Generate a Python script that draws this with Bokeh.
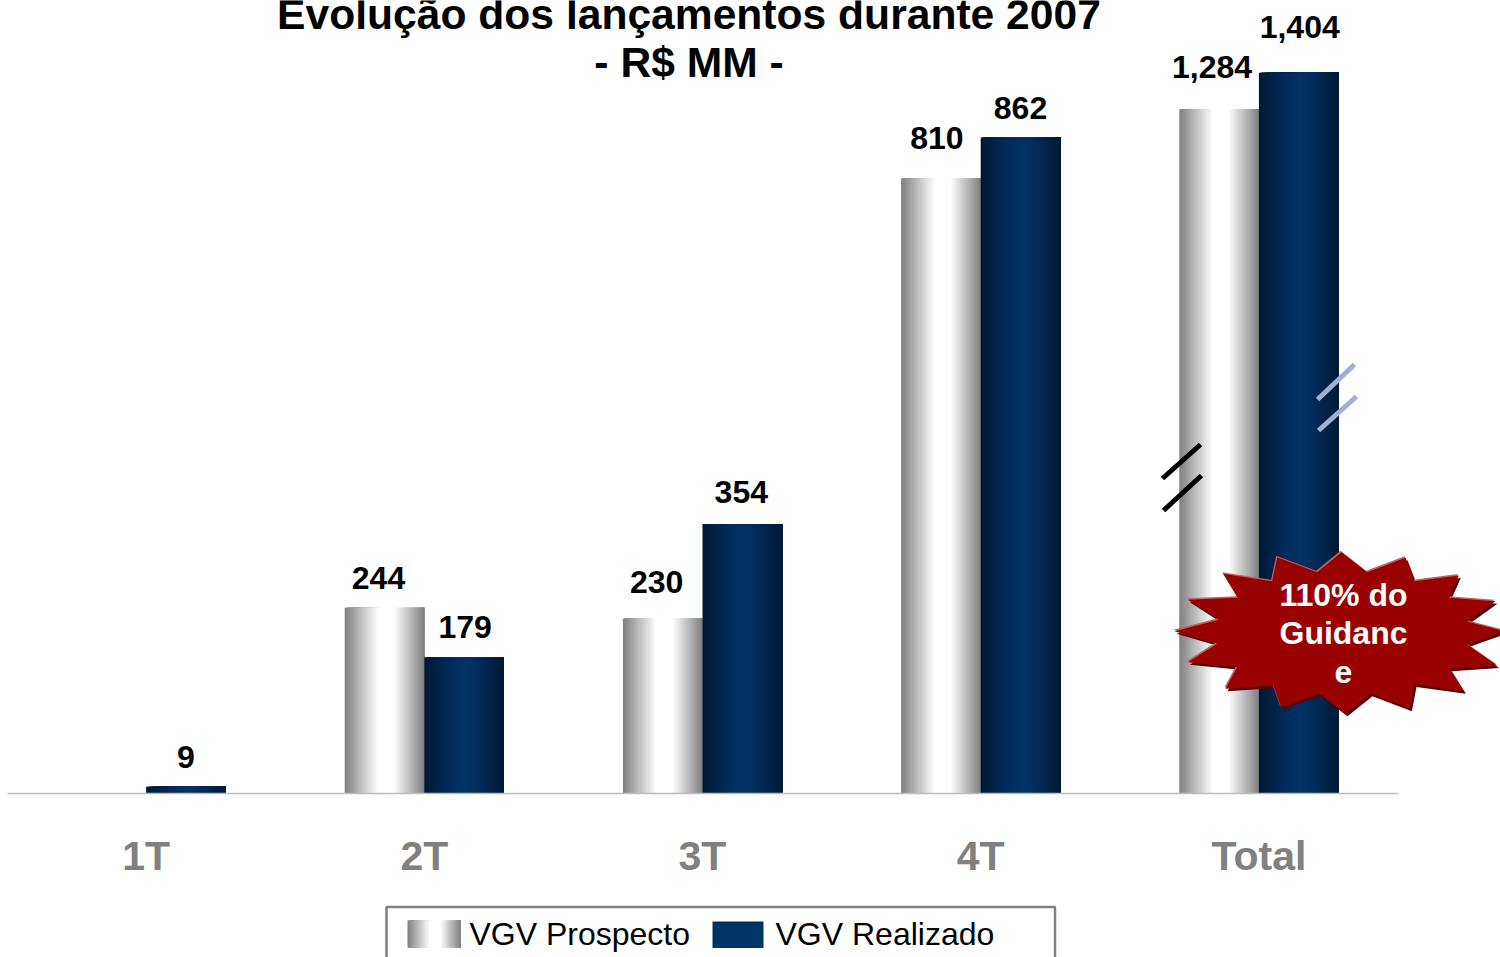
from bokeh.plotting import figure
from bokeh.models import ColumnDataSource, Range1d, FixedTicker
from bokeh.core.properties import value
from bokeh.embed import file_html
from bokeh.resources import INLINE

# ---- chart values -------------------------------------------------------
categories = ["1T", "2T", "3T", "4T", "Total"]
prospecto = [None, 244, 230, 810, 1284]
realizado = [9, 179, 354, 862, 1404]
# The Total bars sit on a broken axis: these are the heights actually drawn.
prospecto_drawn = [None, 244, 230, 808, 899]
realizado_drawn = [9, 179, 354, 862, 947]
series_names = ["VGV Prospecto", "VGV Realizado"]
title_lines = ["Evolução dos lançamentos durante 2007", "- R$ MM -"]
burst_lines = ["110% do", "Guidanc", "e"]

# ---- layout -------------------------------------------------------------
W, H = 1500, 957
X0, XSTEP = 145.6, 278.2      # pixel of category 0 and pixels per category
Y0, YSCALE = 793.0, 0.761     # pixel of value 0 and pixels per unit
BAR_W = 79.6 / XSTEP
FONT = value("Liberation Sans")

def dx(px): return (px - X0) / XSTEP
def dy(py): return (Y0 - py) / YSCALE

p = figure(width=W, height=H, output_backend="svg", toolbar_location=None,
           x_range=Range1d(dx(0), dx(W)), y_range=Range1d(dy(H), dy(0)),
           min_border=0, outline_line_color=None, background_fill_color="white",
           border_fill_color="white")
p.styles = {"position": "absolute", "left": "0px", "top": "0px"}
p.grid.visible = False
p.yaxis.visible = False

ax = p.xaxis[0]
ax.fixed_location = 0
ax.bounds = (-0.5, 4.5)
ax.ticker = FixedTicker(ticks=list(range(len(categories))))
ax.major_label_overrides = {i: c for i, c in enumerate(categories)}
ax.major_tick_line_color = None
ax.minor_tick_line_color = None
ax.axis_line_color = "#BDBDBD"
ax.axis_line_width = 1.5
ax.major_label_standoff = 33
ax.major_label_text_font = "Liberation Sans"
ax.major_label_text_font_style = "bold"
ax.major_label_text_font_size = "41px"
ax.major_label_text_color = "#808080"

# ---- gradients ----------------------------------------------------------
def lerp(stops, t):
    for (t0, c0), (t1, c1) in zip(stops, stops[1:]):
        if t <= t1:
            f = (t - t0) / (t1 - t0) if t1 > t0 else 0
            return "#%02x%02x%02x" % tuple(round(a + (b - a) * f) for a, b in zip(c0, c1))
    return "#%02x%02x%02x" % stops[-1][1]

GRAY = [(0, (128, 128, 128)), (0.42, (255, 255, 255)), (0.62, (255, 255, 255)), (1, (128, 128, 128))]
BLUE = [(0, (0, 26, 51)), (0.3, (0, 42, 88)), (0.52, (0, 51, 102)), (0.72, (0, 42, 88)), (1, (0, 26, 51))]
N = 80

def gradient_bar(left, right, bottom, top, stops):
    """Strips painted left to right, each running on to the right edge, so no seams show."""
    step = (right - left) / N
    return dict(left=[left + i * step for i in range(N)], right=[right] * N,
                bottom=[bottom] * N, top=[top] * N,
                color=[lerp(stops, (i + 0.5) / N) for i in range(N)])

for i in range(len(categories)):
    for heights, lo, stops in ((prospecto_drawn, -BAR_W, GRAY), (realizado_drawn, 0, BLUE)):
        if heights[i] is None:
            continue
        d = gradient_bar(i + lo, i + lo + BAR_W, 0, heights[i], stops)
        p.quad(source=ColumnDataSource(d), left="left", right="right", bottom="bottom", top="top",
               fill_color="color", line_color=None)

# ---- value labels -------------------------------------------------------
pro_dx = [0, -6, -6, -4, -7]
pro_dy = [0, 30, 36, 41, 42]
rea_dx = [0, 1, -1, 0, 1]
rea_dy = [30, 30, 32, 30, 46]
def fmt(v): return f"{v:,}"
lx, ly, lt, lox, loy = [], [], [], [], []
for i in range(len(categories)):
    if prospecto[i] is not None:
        lx.append(i - BAR_W / 2); ly.append(prospecto_drawn[i]); lt.append(fmt(prospecto[i]))
        lox.append(pro_dx[i]); loy.append(-pro_dy[i])
    lx.append(i + BAR_W / 2); ly.append(realizado_drawn[i]); lt.append(fmt(realizado[i]))
    lox.append(rea_dx[i]); loy.append(-rea_dy[i])
p.text(source=ColumnDataSource(dict(x=lx, y=ly, t=lt, ox=lox, oy=loy)), x="x", y="y", text="t",
       x_offset="ox", y_offset="oy", text_font=FONT, text_font_style="bold",
       text_font_size="32px", text_color="black", text_align="center", text_baseline="middle")

# ---- title --------------------------------------------------------------
for line, py in zip(title_lines, (13.5, 61.5)):
    p.text(x=[dx(688.5)], y=[dy(py)], text=[line], text_font=FONT, text_font_style="bold",
           text_font_size="42.6px", text_color="black", text_align="center", text_baseline="middle")

# ---- axis-break marks ---------------------------------------------------
for pts, col in (([(1162, 478, 1200, 444), (1163, 510, 1201, 475)], "#000000"),
                 ([(1317, 399, 1354, 364), (1318, 430, 1356, 396)], "#9FB0D0")):
    for a, b, c, e in pts:
        p.line([dx(a), dx(c)], [dy(b), dy(e)], line_color=col, line_width=5, line_cap="butt")

# ---- starburst ----------------------------------------------------------
burst = [(573,635),(650,695),(765,652),(792,722),(925,705),(895,772),(1035,782),(950,843),(1062,872),
         (950,912),(1040,975),(898,985),(940,1052),(792,1032),(778,1105),(660,1060),(585,1120),(505,1058),
         (392,1100),(368,1035),(225,1045),(260,980),(112,965),(200,910),(72,872),(205,838),(112,778),
         (262,772),(218,700),(365,722),(380,650),(500,695)]
bx = [1150 + a / 3 for a, _ in burst]
by = [340 + b / 3 for _, b in burst]
for ox, oy, col in ((2, 2.5, "#5A0000"), (-1, -1.5, "#BC6464"), (0, 0, "#990000")):
    p.patch([dx(a + ox) for a in bx], [dy(b + oy) for b in by], fill_color=col, line_color=None)
for line, py in zip(burst_lines, (594, 632, 671)):
    p.text(x=[dx(1343)], y=[dy(py)], text=[line], text_font=FONT, text_font_style="bold",
           text_font_size="32px", text_color="white", text_align="center", text_baseline="middle")

# ---- legend -------------------------------------------------------------
p.line([dx(386), dx(386), dx(1054.5), dx(1054.5)], [dy(960), dy(906.5), dy(906.5), dy(960)],
       line_color="#808080", line_width=2.5)
d = gradient_bar(dx(407), dx(460), dy(947), dy(920), GRAY)
p.quad(source=ColumnDataSource(d), left="left", right="right", bottom="bottom", top="top",
       fill_color="color", line_color=None)
p.quad(left=[dx(712)], right=[dx(763)], bottom=[dy(947.5)], top=[dy(921)], fill_color="#003366", line_color=None)
for name, px in zip(series_names, (469, 775)):
    p.text(x=[dx(px)], y=[dy(933.5)], text=[name], text_font=FONT, text_font_size="32px",
           text_color="black", text_align="left", text_baseline="middle")

open("out.html", "w").write(file_html(p, INLINE))
